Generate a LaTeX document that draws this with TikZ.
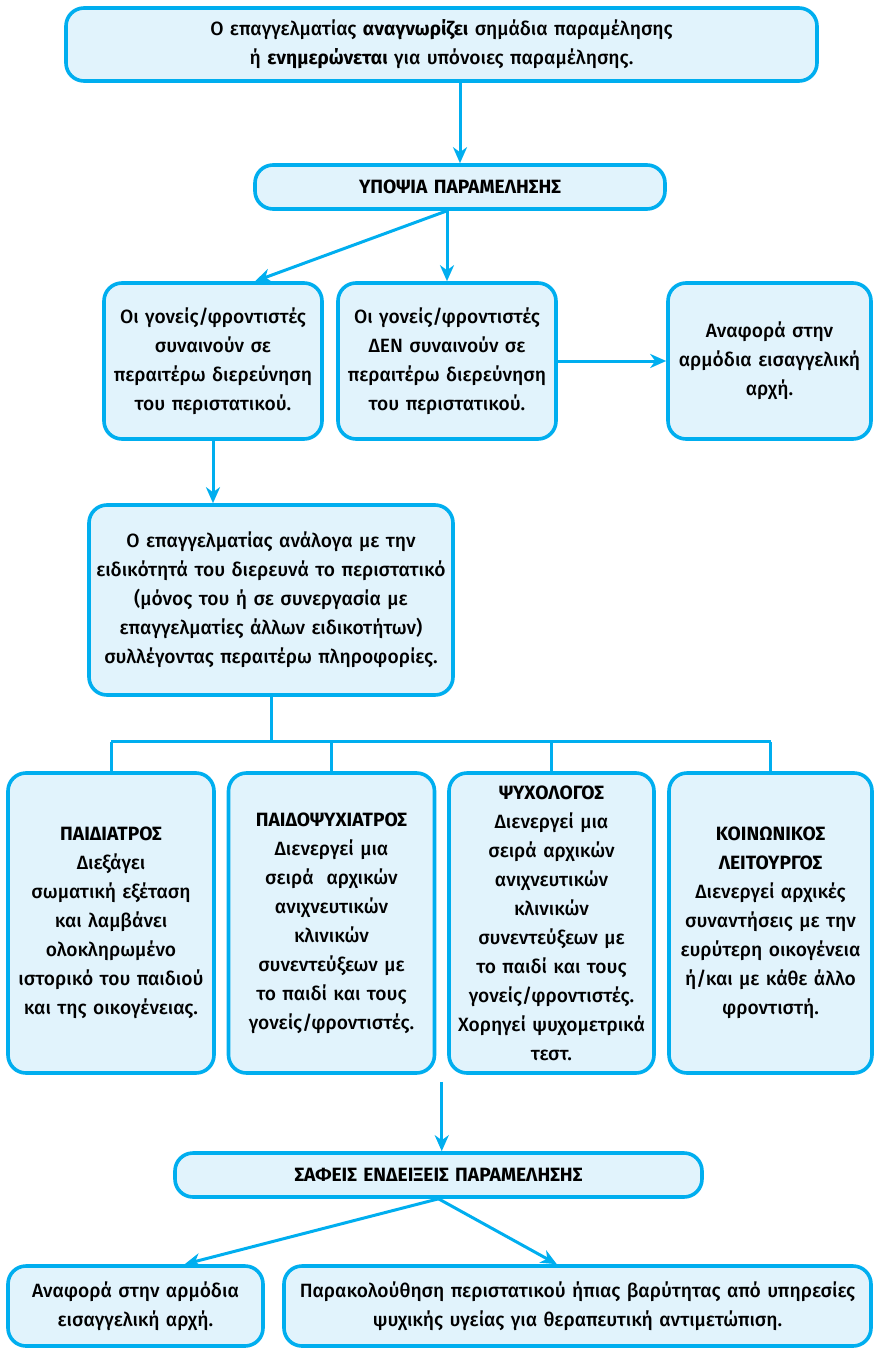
\documentclass[tikz,border=0pt]{standalone}
\usepackage{fontspec}
\setmainfont{Fira Sans}[UprightFont=* Medium, BoldFont=* Bold]
\usetikzlibrary{arrows.meta, calc}
\definecolor{flowcyan}{HTML}{00AEEF}
\definecolor{flowfill}{HTML}{E1F3FC}

\begin{document}
\begin{tikzpicture}[x=1pt, y=-1pt, >=Stealth, line width=3pt,
  box/.style={draw=flowcyan, fill=flowfill, line width=3.6pt,
              rounded corners=18pt, align=center, inner sep=0pt,
              font=\fontsize{19.2}{29}\selectfont},
  link/.style={draw=flowcyan, -{Stealth[length=16pt, width=14pt, inset=5pt]}},
  tie/.style={draw=flowcyan}]

\useasboundingbox (0,0) rectangle (873,1348);

\node[box, text width=751pt, minimum height=73pt] (notice) at (441.5,44.5)
  {Ο επαγγελματίας \textbf{αναγνωρίζει} σημάδια παραμέλησης\\
   ή \textbf{ενημερώνεται} για υπόνοιες παραμέλησης.};

\node[box, text width=410pt, minimum height=44pt] (suspect) at (460,187)
  {\textbf{ΥΠΟΨΙΑ ΠΑΡΑΜΕΛΗΣΗΣ}};

\node[box, text width=218pt, minimum height=156pt] (agree) at (213,361)
  {Οι γονείς/φροντιστές\\ συναινούν σε\\ περαιτέρω διερεύνηση\\ του περιστατικού.};
\node[box, text width=218pt, minimum height=156pt] (refuse) at (447,361)
  {Οι γονείς/φροντιστές\\ ΔΕΝ συναινούν σε\\ περαιτέρω διερεύνηση\\ του περιστατικού.};
\node[box, text width=203pt, minimum height=156pt] (report) at (769.5,361)
  {Αναφορά στην\\ αρμόδια εισαγγελική\\ αρχή.};

\node[box, text width=364pt, minimum height=190pt] (inquiry) at (271,600)
  {Ο επαγγελματίας ανάλογα με την\\ ειδικότητά του διερευνά το περιστατικό\\
   (μόνος του ή σε συνεργασία με\\ επαγγελματίες άλλων ειδικοτήτων)\\
   συλλέγοντας περαιτέρω πληροφορίες.};

% the four specialists
\foreach \idx/\xc/\w/\lab in {
  1/111/206/{\textbf{ΠΑΙΔΙΑΤΡΟΣ}\\ Διεξάγει\\ σωματική εξέταση\\ και λαμβάνει\\ ολοκληρωμένο\\ ιστορικό του παιδιού\\ και της οικογένειας.},
  2/331.5/206/{\textbf{ΠΑΙΔΟΨΥΧΙΑΤΡΟΣ}\\ Διενεργεί μια\\ σειρά\ \ αρχικών\\ ανιχνευτικών\\ κλινικών\\ συνεντεύξεων με\\ το παιδί και τους\\ γονείς/φροντιστές.},
  3/551.5/205/{\textbf{ΨΥΧΟΛΟΓΟΣ}\\ Διενεργεί μια\\ σειρά αρχικών\\ ανιχνευτικών\\ κλινικών\\ συνεντεύξεων με\\ το παιδί και τους\\ γονείς/φροντιστές.\\ Χορηγεί ψυχομετρικά\\ τεστ.},
  4/770.5/203/{\textbf{ΚΟΙΝΩΝΙΚΟΣ}\\ \textbf{ΛΕΙΤΟΥΡΓΟΣ}\\ Διενεργεί αρχικές\\ συναντήσεις με την\\ ευρύτερη οικογένεια\\ ή/και με κάθε άλλο\\ φροντιστή.}
}{
  \node[box, text width=\w pt, minimum height=300pt] (spec\idx) at (\xc,923) {\lab};
}

\node[box, text width=527pt, minimum height=44pt] (clear) at (438.5,1175)
  {\textbf{ΣΑΦΕΙΣ ΕΝΔΕΙΞΕΙΣ ΠΑΡΑΜΕΛΗΣΗΣ}};

\node[box, text width=255pt, minimum height=80pt] (prosecutor) at (135.5,1306)
  {Αναφορά στην αρμόδια\\ εισαγγελική αρχή.};
\node[box, text width=587pt, minimum height=80pt] (therapy) at (577.5,1306)
  {Παρακολούθηση περιστατικού ήπιας βαρύτητας από υπηρεσίες\\
   ψυχικής υγείας για θεραπευτική αντιμετώπιση.};

% connectors
\draw[link] (suspect.north |- notice.south) -- (suspect.north);

\coordinate (fork) at (refuse.north |- suspect.south);
\draw[link] (fork) -- ($(agree.north)!0.38!(agree.north east)$);
\draw[link] (fork) -- (refuse.north);
\draw[link] (refuse.east) -- (report.west);

\draw[link] (agree.south) -- (agree.south |- inquiry.north);

\coordinate (bus) at ($(inquiry.south)+(0,45)$);
\draw[tie] (inquiry.south) -- (bus);
\draw[tie] (spec1.north |- bus) -- (spec4.north |- bus);
\foreach \idx in {1,...,4}
  \draw[tie] (spec\idx.north |- bus) -- (spec\idx.north);

\coordinate (gap) at ($(spec2.south east)!0.5!(spec3.south west)+(0,7)$);
\draw[link] (gap) -- (gap |- clear.north);

\draw[link] (clear.south) -- ($(prosecutor.north)!0.38!(prosecutor.north east)$);
\draw[link] (clear.south) -- ($(therapy.north)!0.07!(therapy.north west)$);

\end{tikzpicture}
\end{document}
